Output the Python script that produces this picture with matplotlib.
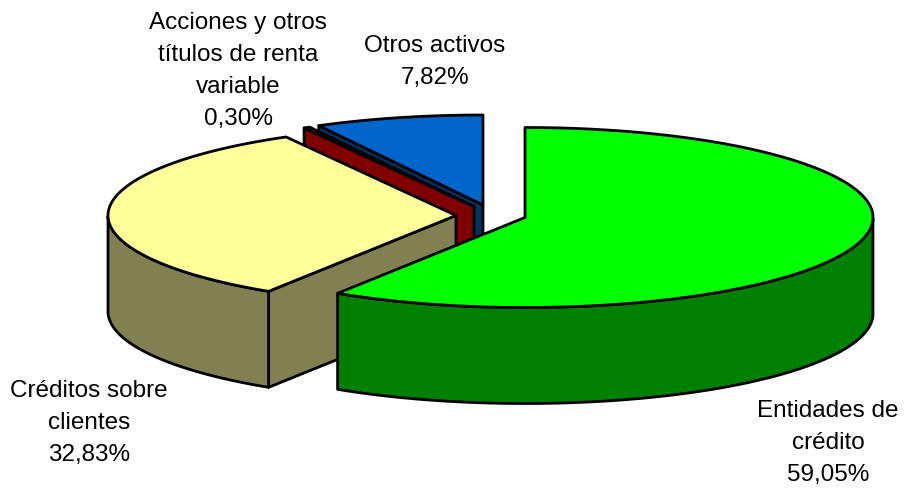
import numpy as np
import matplotlib
matplotlib.use('Agg')
import matplotlib.pyplot as plt
from matplotlib.patches import Polygon

plt.rcParams['font.family'] = ['Liberation Sans', 'DejaVu Sans']

categorias = ['Entidades de\ncrédito', 'Créditos sobre\nclientes',
              'Acciones y otros\ntítulos de renta\nvariable', 'Otros activos']
valores = [59.05, 32.83, 0.30, 7.82]
etiquetas = ['59,05%', '32,83%', '0,30%', '7,82%']

colores_top = ['#00FF00', '#FFFF99', '#800000', '#0066CC']
colores_lado = ['#008000', '#808050', '#800000', '#003366']
# centro de cada porcion (desplazadas) en pixeles
centros = [(525, 217.5), (456, 215.5), (474, 206.5), (483, 205)]
pos_texto = [(828, 443), (89, 423), (238, 71), (435, 62)]

rx, ry = 348, 90
prof = 96

fig = plt.figure(figsize=(9.05, 4.88), dpi=100)
ax = fig.add_axes([0, 0, 1, 1])
ax.set_xlim(0, 905)
ax.set_ylim(488, 0)
ax.axis('off')


def borde(c, ang):
    # ang en grados, horario desde arriba
    a = np.radians(ang)
    return np.column_stack((c[0] + rx * np.sin(a), c[1] - ry * np.cos(a)))


def pol(pts, color, z):
    ax.add_patch(Polygon(pts, closed=True, facecolor=color, edgecolor='black',
                         linewidth=2.0, joinstyle='round', zorder=z))


# limites de cada porcion
fin = np.cumsum(valores) * 3.6
inicio = np.concatenate(([0], fin[:-1]))
abajo = np.array([0, prof])

# se dibuja de atras hacia adelante
for i in [3, 2, 1, 0]:
    c = centros[i]
    z = (4 - i) * 2
    angs = np.linspace(inicio[i], fin[i], 200)

    # cara de corte visible (la verde queda de espaldas)
    if i > 0:
        r = borde(c, np.array([inicio[i]]))[0]
        pol([c, r, r + abajo, np.array(c) + abajo], colores_lado[i], z)

    # pared exterior, solo la parte que mira al frente
    vis = angs[(angs >= 90) & (angs <= 270)]
    if len(vis) > 1:
        a = borde(c, vis)
        pol(np.vstack((a, (a + abajo)[::-1])), colores_lado[i], z)

    # cara superior
    pol(np.vstack(([c], borde(c, angs))), colores_top[i], z + 1)

for i in range(4):
    ax.text(pos_texto[i][0], pos_texto[i][1], categorias[i] + '\n' + etiquetas[i],
            ha='center', va='center', fontsize=17.5, color='black', linespacing=1.57)

fig.savefig('out.png', dpi=100)
